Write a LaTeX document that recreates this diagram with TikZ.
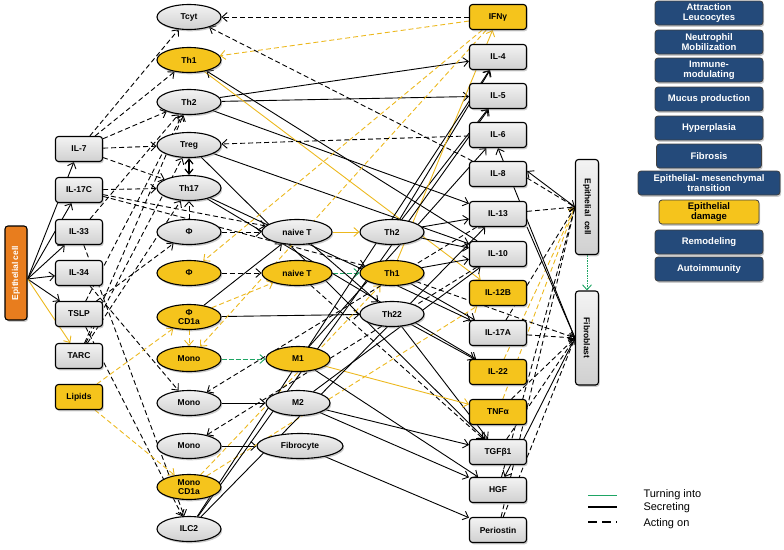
\documentclass[tikz,border=0pt]{standalone}
\usepackage{fontspec}
\setmainfont{Liberation Sans}
\usetikzlibrary{arrows.meta, shapes.geometric, shadows, backgrounds}
\definecolor{CellYellow}{RGB}{245,196,28}
\definecolor{CellGrey}{RGB}{208,208,208}
\definecolor{EpiOrange}{RGB}{232,125,30}
\definecolor{EffectBlue}{RGB}{36,74,122}
\definecolor{ArrYellow}{RGB}{236,184,30}
\definecolor{TurnGreen}{RGB}{30,165,100}

\begin{document}
\begin{tikzpicture}[x=1pt, y=-1pt,
        cbox/.style={rectangle, rounded corners=3pt, draw, line width=1.1pt, minimum width=47pt, minimum height=25pt, inner sep=1pt, align=center, font=\bfseries\fontsize{8.5}{9.5}\selectfont, drop shadow={shadow xshift=1.2pt, shadow yshift=-1.8pt, opacity=0.4}},
        cell/.style={ellipse, draw, line width=1.1pt, minimum width=64pt, minimum height=25pt, inner sep=0pt, align=center, font=\bfseries\fontsize{8.5}{9.5}\selectfont, drop shadow={shadow xshift=1.2pt, shadow yshift=-1.8pt, opacity=0.4}},
        greycell/.style={top color=CellGrey!25!white, bottom color=CellGrey},
        yelcell/.style={fill=CellYellow},
        cyto/.style={cbox, minimum width=57pt},
        tallbox/.style={cbox, minimum width=95pt, minimum height=23pt},
        effect/.style={rectangle, rounded corners=3pt, draw=black!75, line width=0.8pt, fill=EffectBlue, text=white, minimum width=108pt, minimum height=24pt, inner sep=1pt, align=center, font=\bfseries\fontsize{9.5}{10.5}\selectfont, drop shadow={shadow xshift=1.2pt, shadow yshift=-1.8pt, opacity=0.4}},
        legtext/.style={anchor=west, font=\fontsize{11}{12}\selectfont},
        sec/.style={-{Straight Barb[length=5pt,width=9pt]}, line width=0.9pt},
        act/.style={sec, dash pattern=on 5pt off 3pt},
        ysec/.style={sec, ArrYellow},
        yact/.style={act, ArrYellow},
        turn/.style={sec, TurnGreen, dash pattern=on 5pt off 2pt}
    ]
        \useasboundingbox (0,0) rectangle (784,549);

        % epithelial cell and its mediators
        \node[tallbox, minimum width=94pt, minimum height=22pt, fill=EpiOrange, text=white, rotate=90] (epi) at (16,273) {Epithelial cell};
        \node[cbox, greycell] (i7) at (79,149) {IL-7};
        \node[cbox, greycell] (i17c) at (79,190) {IL-17C};
        \node[cbox, greycell] (i33) at (79,232) {IL-33};
        \node[cbox, greycell] (i34) at (79,273) {IL-34};
        \node[cbox, greycell] (tslp) at (79,314) {TSLP};
        \node[cbox, greycell] (tarc) at (79,356) {TARC};
        \node[cbox, yelcell] (lip) at (79,397) {Lipids};

        % target cells
        \node[cell, greycell] (tcyt) at (189,17) {Tcyt};
        \node[cell, yelcell] (thoneL) at (189,60) {Th1};
        \node[cell, greycell] (thtwoL) at (189,102) {Th2};
        \node[cell, greycell] (treg) at (189,145) {Treg};
        \node[cell, greycell] (thsev) at (189,188) {Th17};
        \node[cell, greycell] (phiG) at (189,232) {Φ};
        \node[cell, yelcell] (phiY) at (189,273) {Φ};
        \node[cell, yelcell] (phiCD) at (189,317) {Φ\\CD1a};
        \node[cell, yelcell] (monoY) at (189,359) {Mono};
        \node[cell, greycell] (monoG) at (189,403) {Mono};
        \node[cell, greycell] (monoH) at (189,446) {Mono};
        \node[cell, yelcell] (monoCD) at (189,487) {Mono\\CD1a};
        \node[cell, greycell] (ilc) at (189,529) {ILC2};

        % differentiated cells
        \node[cell, greycell, minimum width=70pt] (naiveG) at (297,232) {naive T};
        \node[cell, yelcell, minimum width=70pt] (naiveY) at (297,273) {naive T};
        \node[cell, yelcell] (mOne) at (298,359) {M1};
        \node[cell, greycell] (mTwo) at (298,403) {M2};
        \node[cell, greycell, minimum width=86pt] (fibro) at (300,446) {Fibrocyte};
        \node[cell, greycell] (thtwoR) at (392,232) {Th2};
        \node[cell, yelcell] (thoneR) at (392,273) {Th1};
        \node[cell, greycell] (thtt) at (392,314) {Th22};

        % secreted mediators
        \node[cyto, yelcell] (ifn) at (498,17) {IFNγ};
        \node[cyto, greycell] (i4) at (498,57) {IL-4};
        \node[cyto, greycell] (i5) at (498,96) {IL-5};
        \node[cyto, greycell] (i6) at (498,135) {IL-6};
        \node[cyto, greycell] (i8) at (498,174) {IL-8};
        \node[cyto, greycell] (i13) at (498,214) {IL-13};
        \node[cyto, greycell] (i10) at (498,254) {IL-10};
        \node[cyto, yelcell] (i12) at (498,293) {IL-12B};
        \node[cyto, greycell] (i17) at (498,333) {IL-17A};
        \node[cyto, yelcell] (i22) at (498,372) {IL-22};
        \node[cyto, yelcell] (tnf) at (498,412) {TNFα};
        \node[cyto, greycell] (tgf) at (498,452) {TGFβ1};
        \node[cyto, greycell] (hgf) at (498,490) {HGF};
        \node[cyto, greycell] (peri) at (498,530) {Periostin};

        % structural cells
        \node[tallbox, greycell, rotate=-90] (epic) at (587,207) {Epithelial\ \ cell};
        \node[tallbox, greycell, minimum width=94pt, rotate=-90] (fib) at (587,338) {Fibroblast};

        % effects
        \node[effect] (eAttr) at (709,13) {Attraction\\Leucocytes};
        \node[effect] (eNeut) at (709,42) {Neutrophil\\Mobilization};
        \node[effect] (eImm) at (709,70) {Immune-\\modulating};
        \node[effect] (eMuc) at (709,99) {Mucus production};
        \node[effect] (eHyp) at (709,128) {Hyperplasia};
        \node[effect, minimum width=105pt] (eFib) at (709,156) {Fibrosis};
        \node[effect, minimum width=142pt] (eEmt) at (709,183) {Epithelial- mesenchymal\\transition};
        \node[effect, minimum width=100pt, fill=CellYellow, text=black] (eDam) at (709,212) {Epithelial\\damage};
        \node[effect] (eRem) at (709,242) {Remodeling};
        \node[effect] (eAuto) at (709,269) {Autoimmunity};

        % legend
        \coordinate (lgA) at (588,495);
        \coordinate (lgB) at (588,507);
        \coordinate (lgC) at (588,522);
        \draw[TurnGreen, line width=1pt] (lgA) -- ++(29,0);
        \draw[line width=1.1pt] (lgB) -- ++(29,0);
        \draw[line width=1.1pt, dash pattern=on 9pt off 5pt] (lgC) -- ++(29,0);
        \node[legtext] (lgturn) at (640,495) {Turning into};
        \node[legtext] (lgsec) at (640,508) {Secreting};
        \node[legtext] (lgact) at (640,524) {Acting on};

        \begin{scope}[on background layer]
        % epithelial cell secreting
        \draw[sec] ([yshift=-6pt]epi.south) -- (i7);
        \draw[sec] ([yshift=-6pt]epi.south) -- (i17c);
        \draw[sec] ([yshift=-6pt]epi.south) -- (i33);
        \draw[sec] ([yshift=-6pt]epi.south) -- (i34);
        \draw[sec] ([yshift=-6pt]epi.south) -- (tslp);
        \draw[ysec] ([yshift=-6pt]epi.south) -- (tarc);

        % mediators acting on cells
        \draw[act] (i7) -- (tcyt);
        \draw[act] (i7) -- (thoneL);
        \draw[act] (i7) -- (thtwoL);
        \draw[act] (i7) -- (treg);
        \draw[act] (i7) -- (thsev);
        \draw[act] (i17c) -- (thsev);
        \draw[act] (i17c) -- (naiveG);
        \draw[act] (i17c) -- (thoneR);
        \draw[act] (i33) -- (thtwoL);
        \draw[act] (i33) -- (ilc);
        \draw[act] (i34) -- (monoG);
        \draw[act] (tslp) -- (thtwoL);
        \draw[act] (tslp) -- (phiG);
        \draw[act] (tslp) -- (ilc);
        \draw[act] (tarc) -- (thtwoL);
        \draw[act] (tarc) -- (treg);
        \draw[act] (tarc) -- (thsev);
        \draw[yact] (lip) -- (phiCD);
        \draw[yact] (lip) -- (monoCD);
        \draw[{Straight Barb[length=5pt,width=8pt]}-{Straight Barb[length=5pt,width=8pt]}, line width=1.2pt] (treg) -- (thsev);
        \draw[act] (phiG) -- (thsev);

        % differentiation
        \draw[act] (phiG) -- (naiveG);
        \draw[act] (phiY) -- (naiveY);
        \draw[sec] (phiCD) -- (naiveG);
        \draw[yact] (phiCD) -- (naiveY);
        \draw[sec] (phiCD) -- (thtt);
        \draw[yact] (phiCD) -- (monoY);
        \draw[turn] (monoY) -- (mOne);
        \draw[sec] (monoG) -- (mTwo);
        \draw[sec] (monoH) -- (fibro);
        \draw[ysec] (naiveG) -- (thtwoR);
        \draw[turn] (naiveY) -- (thoneR);
        \draw[sec] (naiveG) -- (thtt);
        \draw[yact] (monoCD) -- (thoneR);
        \draw[yact] (monoCD) -- (i12);

        % cells secreting mediators
        \draw[sec] (thtwoL) -- (i4);
        \draw[sec] (thtwoL) -- (i5);
        \draw[sec] (thtwoL) -- (i13);
        \draw[ysec] (thoneL) -- (i12);
        \draw[sec] (i10) -- (thoneL);
        \draw[sec] (treg) -- (i10);
        \draw[sec] (treg) -- (tgf);
        \draw[sec] (thsev) -- (i17);
        \draw[sec] (thsev) -- (i22);
        \draw[sec] (thtwoR) -- (i4);
        \draw[sec] (thtwoR) -- (i5);
        \draw[sec] (thtwoR) -- (i13);
        \draw[sec] (thtwoR) -- (i10);
        \draw[ysec] (thoneR) -- (ifn);
        \draw[sec] (thoneR) -- (i10);
        \draw[sec] (thoneR) -- (i17);
        \draw[sec] (thtt) -- (i22);
        \draw[sec] (thtt) -- (tgf);
        \draw[ysec] (mOne) -- (tnf);
        \draw[sec] (mOne) -- (i6);
        \draw[sec] (mOne) -- (hgf);
        \draw[sec] (mTwo) -- (i10);
        \draw[sec] (mTwo) -- (tgf);
        \draw[sec] (mTwo) -- (hgf);
        \draw[sec] (fibro) -- (peri);
        \draw[sec] (ilc) -- (i4);
        \draw[sec] (ilc) -- (i5);
        \draw[sec] (ilc) -- (i13);

        % mediators acting back on cells
        \draw[act] (ifn) -- (tcyt);
        \draw[yact] (ifn) -- (thoneL);
        \draw[yact] (ifn) -- (phiY);
        \draw[yact] (ifn) -- (monoY);
        \draw[act] (i6) -- (treg);
        \draw[act] (i8) -- (tcyt);
        \draw[act] (i13) -- (monoG);
        \draw[act] (i10) -- (monoH);
        \draw[act] (naiveY) -- (tgf);

        % epithelial cell and fibroblast
        \draw[sec] (epic.south) -- ([yshift=3pt]i8.east);
        \draw[act] ([yshift=-4pt]i8.east) -- (epic.south);
        \draw[act] (i13) -- (epic.south);
        \draw[act] (i17) -- (epic.south);
        \draw[yact] (i22) -- (epic.south);
        \draw[yact] (tnf) -- (epic.south);
        \draw[act] (hgf) -- (epic.south);
        \draw[act] (peri) -- (epic.south);
        \draw[sec] (fib.south) -- (i6.south);
        \draw[sec] (i13.south east) -- (fib.south);
        \draw[act] (i17) -- (fib.south);
        \draw[act] (thoneR) -- (fib.south);
        \draw[act] (tnf) -- (fib.south);
        \draw[act] (tgf) -- (fib.south);
        \draw[sec] (fib.south) -- (hgf);
        \draw[act] (peri) -- (fib.south);
        \draw[turn, dash pattern=on 1.5pt off 1pt] (epic) -- (fib);
        \end{scope}
    \end{tikzpicture}
\end{document}
